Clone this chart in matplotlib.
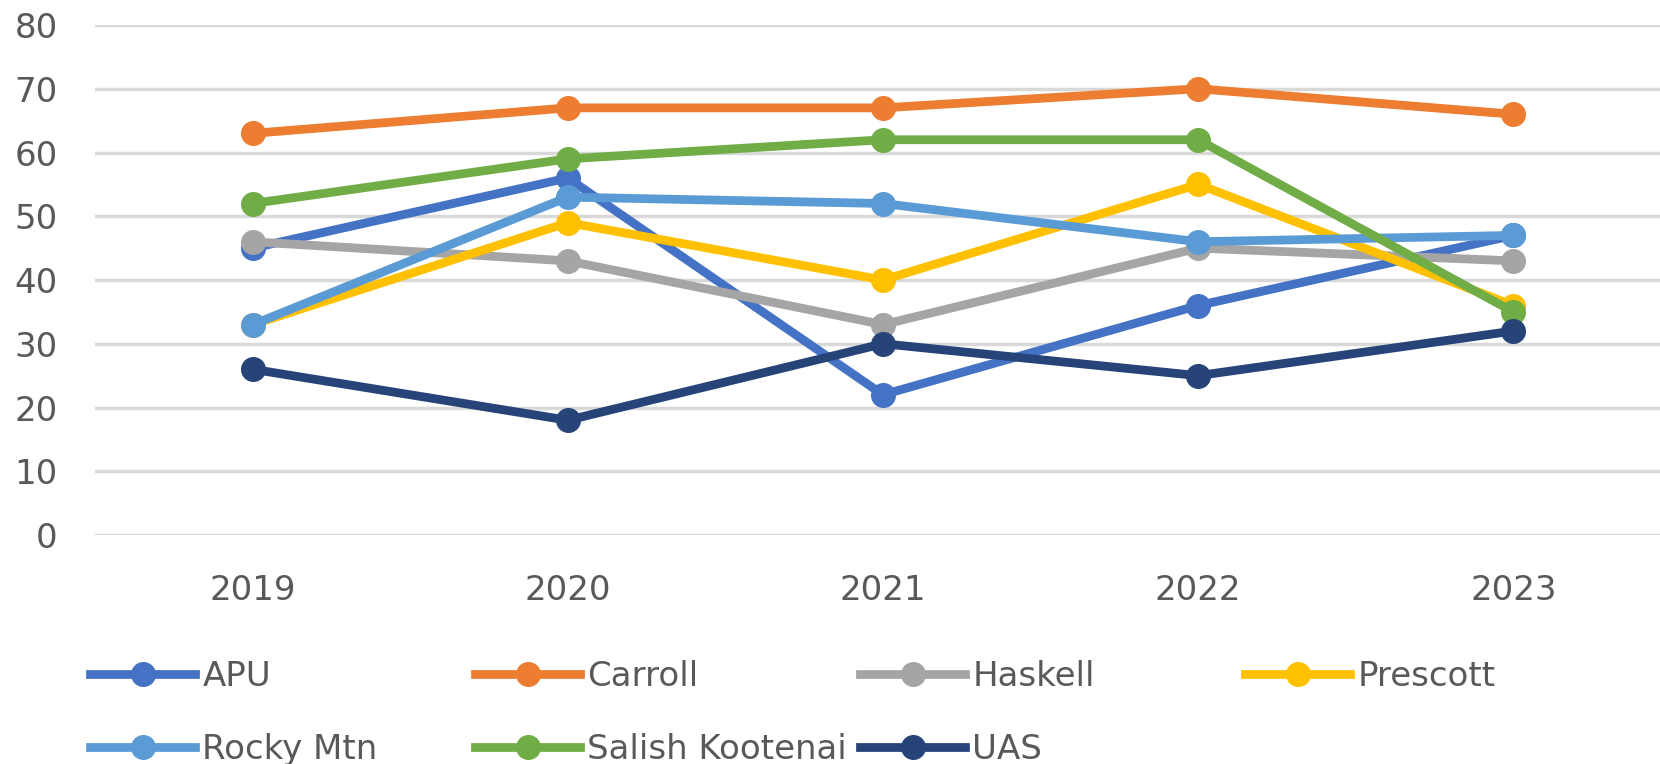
#! /usr/bin/env python3

import matplotlib
matplotlib.use('Agg')
import matplotlib.pyplot as plt

years = ['2019', '2020', '2021', '2022', '2023']
apu = [45, 56, 22, 36, 47]
carroll = [63, 67, 67, 70, 66]
haskell = [46, 43, 33, 45, 43]
prescott = [33, 49, 40, 55, 36]
rocky_mtn = [33, 53, 52, 46, 47]
salish_kootenai = [52, 59, 62, 62, 35]
uas = [26, 18, 30, 25, 32]

series = [
    ('APU', apu, '#4472C4'),
    ('Carroll', carroll, '#ED7D31'),
    ('Haskell', haskell, '#A5A5A5'),
    ('Prescott', prescott, '#FFC000'),
    ('Rocky Mtn', rocky_mtn, '#5B9BD5'),
    ('Salish Kootenai', salish_kootenai, '#70AD47'),
    ('UAS', uas, '#264478'),
]

plt.rcParams['font.family'] = ['DejaVu Sans']
text_color = '#595959'
W, H = 1660, 764

fig = plt.figure(figsize=(W / 100, H / 100), dpi=100)
# plot area runs a little past the right edge of the picture, as in the source
ax = fig.add_axes([95 / W, 1 - 535 / H, (1671 - 95) / W, (535 - 25) / H])

x = list(range(len(years)))
lines = []
for name, values, color in series:
    ln, = ax.plot(x, values, '-o', color=color, linewidth=6.3, markersize=17, label=name)
    lines.append(ln)

ax.set_xlim(-0.5, len(years) - 0.5)
ax.set_ylim(0, 80)
ax.set_yticks(range(0, 81, 10))
ax.set_xticks(x)
ax.set_xticklabels(years)
ax.yaxis.grid(True, color='#D9D9D9', linewidth=2.5)
ax.set_axisbelow(True)
for s in ax.spines.values():
    s.set_visible(False)
ax.tick_params(axis='both', length=0, labelsize=24.5, labelcolor=text_color)
ax.tick_params(axis='y', pad=27)
ax.tick_params(axis='x', pad=28)

# legend laid out row by row, 4 entries per row, fixed column pitch
col_x = [90, 475, 860, 1245]
ncol = 4
for c in range(ncol):
    items = lines[c::ncol]
    leg = fig.legend(items, [l.get_label() for l in items],
                     loc='upper left', bbox_to_anchor=(col_x[c] / W, 1 - 660 / H),
                     frameon=False, fontsize=24.5, handlelength=3.1,
                     handletextpad=0.2, borderaxespad=0, borderpad=0,
                     labelspacing=1.18)
    for t in leg.get_texts():
        t.set_color(text_color)

fig.savefig('out.png', dpi=100)
plt.close('all')
